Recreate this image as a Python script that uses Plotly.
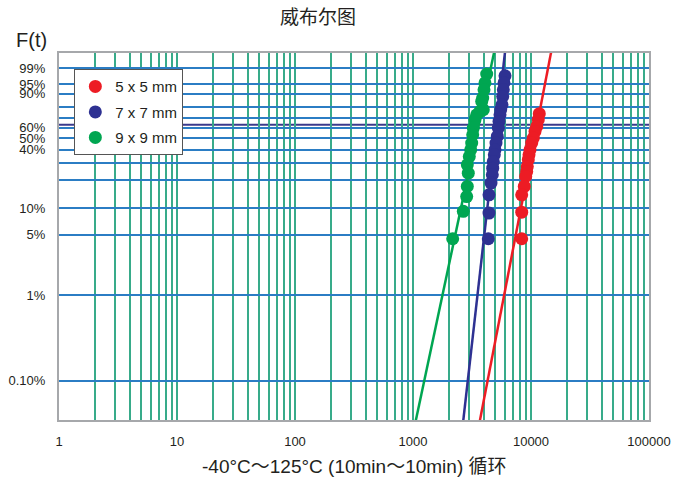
import numpy as np
import plotly.graph_objects as go

# Cycles to failure and cumulative failure F(t) in %
cycles_5x5 = [11757, 11532, 11177, 10812, 10459, 10137, 9806, 9618,
              9487, 9303, 9196, 9018, 8775, 8342, 8342, 8342]
f_5x5 = [73.9, 68.1, 61.4, 56.5, 50.2, 45.6, 39.8, 35.8,
         32.2, 27.6, 24.6, 21.9, 17.2, 14.0, 9.0, 4.5]

cycles_7x7 = [6021, 5905, 5825, 5757, 5678, 5536, 5462, 5356, 5284, 5181,
              5052, 4954, 4887, 4792, 4736, 4699, 4581, 4406, 4406, 4346]
f_7x7 = [97.6, 95.4, 92.3, 88.2, 81.9, 77.6, 72.9, 66.4, 59.8, 51.7,
         45.6, 39.8, 35.8, 30.9, 26.6, 22.8, 18.7, 14.0, 8.8, 4.5]

cycles_9x9 = [4213, 4074, 3997, 3896, 3821, 3943, 3697, 3466, 3353, 3243,
              3205, 3143, 3083, 3000, 2885, 2942, 2885, 2851, 2669, 2170]
f_9x9 = [98.0, 95.4, 92.3, 87.1, 84.6, 77.6, 76.0, 72.9, 68.1, 59.8,
         53.3, 45.6, 39.8, 34.5, 28.7, 23.7, 17.2, 13.4, 9.2, 4.5]

# Weibull fit lines (shape beta, scale eta) as drawn
series_names = ["5 x 5 mm", "7 x 7 mm", "9 x 9 mm"]
weibull_beta = [7.15, 12.2, 6.5]
weibull_eta = [11265, 5130, 3606]

# Probability grid
grid_pct = [0.1, 1, 5, 10, 20, 30, 40, 50, 60, 70, 80, 90, 95, 99]
label_pct = {0.1: "0.10%", 1: "1%", 5: "5%", 10: "10%", 40: "40%",
             50: "50%", 60: "60%", 90: "90%", 95: "95%", 99: "99%"}
x_decades = [1, 10, 100, 1000, 10000, 100000]

COLORS = ["#ed1c24", "#2e3192", "#00a651"]
FONT = "Liberation Sans, Arial, Noto Sans CJK SC, sans-serif"


def weib(pct):
    p = np.asarray(pct, dtype=float) / 100.0
    return np.log(-np.log(1.0 - p))


Y_RANGE = [-7.967, 1.933]

fig = go.Figure()

data = [(cycles_5x5, f_5x5), (cycles_7x7, f_7x7), (cycles_9x9, f_9x9)]
for (cyc, pct), name, beta, eta, color in zip(data, series_names,
                                              weibull_beta, weibull_eta, COLORS):
    wy = np.array([Y_RANGE[0] - 0.5, Y_RANGE[1] + 0.5])
    fig.add_trace(go.Scatter(
        x=eta * np.exp(wy / beta), y=wy, mode="lines",
        line=dict(color=color, width=2.5), showlegend=False, hoverinfo="skip",
        legendgroup=name,
    ))
    fig.add_trace(go.Scatter(
        x=cyc, y=weib(pct), mode="markers", name=name, legendgroup=name,
        marker=dict(color=color, size=13),
    ))

# 63.2% characteristic-life line
fig.add_shape(type="line", xref="paper", x0=0, x1=1, yref="y",
              y0=0, y1=0, line=dict(color="#3b3a8c", width=2), layer="below")

x_grid = [m * 10 ** d for d in range(5) for m in range(1, 10)] + [100000]
x_text = [str(v) if v in x_decades else "" for v in x_grid]

fig.update_xaxes(
    type="log", range=[0, 5], automargin=False,
    tickvals=x_grid, ticktext=x_text,
    showgrid=True, gridcolor="#38ab8a", gridwidth=1.6,
    showline=True, linecolor="#a6a8ab", linewidth=2, mirror=True,
    ticks="outside", ticklen=8, tickcolor="rgba(0,0,0,0)", zeroline=False,
    tickfont=dict(family=FONT, size=13, color="#231f20"),
    fixedrange=True,
)
fig.update_yaxes(
    range=Y_RANGE, automargin=False,
    tickvals=list(weib(grid_pct)),
    ticktext=[label_pct.get(p, "") for p in grid_pct],
    showgrid=True, gridcolor="#2b7dc4", gridwidth=1.8,
    showline=True, linecolor="#a6a8ab", linewidth=2, mirror=True,
    ticks="outside", ticklen=9, tickcolor="rgba(0,0,0,0)",
    zeroline=False,
    tickfont=dict(family=FONT, size=13, color="#231f20"),
    fixedrange=True,
)

fig.add_annotation(xref="paper", yref="paper", x=-0.046, y=1.035,
                   xanchor="center", yanchor="middle",
                   text="F(t)", showarrow=False,
                   font=dict(family=FONT, size=20, color="#231f20"))
fig.add_annotation(xref="paper", yref="paper", x=0.5, y=-0.128,
                   text="-40°C～125°C (10min～10min) 循环", showarrow=False,
                   xanchor="center", yanchor="middle",
                   font=dict(family=FONT, size=19, color="#231f20"))

fig.update_layout(
    width=675, height=481,
    margin=dict(l=59, r=26, t=53, b=61, autoexpand=False),
    paper_bgcolor="white", plot_bgcolor="white",
    title=dict(text="威布尔图", x=0.471, y=0.963, xanchor="center",
               yanchor="middle", automargin=False,
               font=dict(family="Noto Sans CJK SC", size=19, color="#231f20")),
    legend=dict(x=0.026, y=0.956, xanchor="left", yanchor="top",
                bgcolor="white", bordercolor="#555555", borderwidth=1,
                tracegroupgap=3,
                font=dict(family=FONT, size=15, color="#231f20")),
    dragmode=False,
)

fig.write_html("out.html", config={"displayModeBar": False},
               post_script="document.body.style.margin='0';")
